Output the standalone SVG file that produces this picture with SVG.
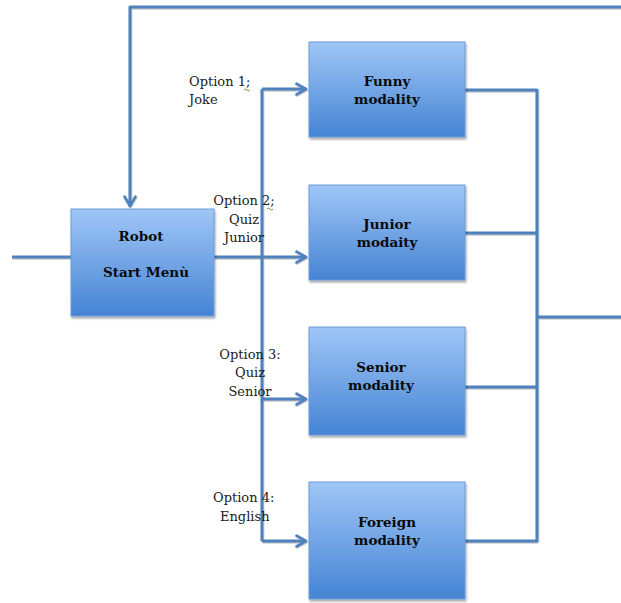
<svg xmlns="http://www.w3.org/2000/svg" width="621" height="603" viewBox="0 0 621 603">
  <style>
    .box { fill: url(#boxGrad); stroke: #6d9bd8; stroke-width: 1; filter: url(#shadow); }
    .wire { fill: none; stroke: #4f81bd; stroke-width: 3; stroke-linejoin: round; }
    .title { font-family: "DejaVu Serif", "Liberation Serif", serif; font-size: 13.5px; font-weight: bold; fill: #0a0a0a; text-anchor: middle; }
    .opt { font-family: "DejaVu Serif", "Liberation Serif", serif; font-size: 13px; fill: #1a1a1a; }
    .mid { text-anchor: middle; }
  </style>
  <defs>
    <linearGradient id="boxGrad" x1="0" y1="0" x2="0" y2="1">
      <stop offset="0" stop-color="#a0c6f7"/>
      <stop offset="1" stop-color="#4584d3"/>
    </linearGradient>
    <filter id="shadow" x="-10%" y="-10%" width="125%" height="125%">
      <feDropShadow dx="1" dy="2" stdDeviation="1.2" flood-color="#000" flood-opacity="0.35"/>
    </filter>
    <filter id="lineShadow" filterUnits="userSpaceOnUse" x="0" y="0" width="621" height="603">
      <feDropShadow dx="0.5" dy="1" stdDeviation="0.6" flood-color="#000" flood-opacity="0.3"/>
    </filter>
    <marker id="arrow" viewBox="0 0 10 10" refX="8" refY="5" markerWidth="4.5" markerHeight="4.5" orient="auto" markerUnits="strokeWidth">
      <path d="M1,1 L8,5 L1,9" fill="none" stroke="#4f81bd" stroke-width="2" stroke-linecap="round" stroke-linejoin="round"/>
    </marker>
  </defs>

  <rect width="621" height="603" fill="#ffffff"/>

  <!-- connectors -->
  <g id="connectors" filter="url(#lineShadow)">
    <!-- feedback loop from the right edge back to the start menu -->
    <path class="wire" d="M621,7 L130,7 L130,206" marker-end="url(#arrow)"/>
    <!-- incoming line -->
    <path class="wire" d="M12,257 L71,257"/>
    <!-- start menu to junior -->
    <path class="wire" d="M214,257 L306,257" marker-end="url(#arrow)"/>
    <!-- distribution bus -->
    <path class="wire" d="M262,89 L262,541"/>
    <path class="wire" d="M262,89 L306,89" marker-end="url(#arrow)"/>
    <path class="wire" d="M262,399 L306,399" marker-end="url(#arrow)"/>
    <path class="wire" d="M262,541 L306,541" marker-end="url(#arrow)"/>
    <!-- collection bus -->
    <path class="wire" d="M465,90 L537,90 L537,541 L465,541"/>
    <path class="wire" d="M465,233 L537,233"/>
    <path class="wire" d="M465,387 L537,387"/>
    <path class="wire" d="M537,317 L621,317"/>
  </g>

  <!-- option labels -->
  <g id="labels">
    <text class="opt" x="189" y="86">Option  1;</text>
    <text class="opt" x="189" y="104">Joke</text>
    <path d="M244,90 q1.5,-2 3,0 t3,0" fill="none" stroke="#5aa02c" stroke-width="1"/>
    <text class="opt mid" x="244" y="205">Option 2;</text>
    <text class="opt mid" x="244" y="224">Quiz</text>
    <text class="opt mid" x="244" y="242">Junior</text>
    <path d="M267,209 q1.5,-2 3,0 t3,0" fill="none" stroke="#5aa02c" stroke-width="1"/>
    <text class="opt mid" x="250" y="359">Option 3:</text>
    <text class="opt mid" x="250" y="377">Quiz</text>
    <text class="opt mid" x="250" y="396">Senior</text>
    <text class="opt" x="213" y="502">Option 4:</text>
    <text class="opt" x="220" y="521">English</text>
  </g>

  <g id="robot">
    <rect class="box" x="71" y="209" width="143" height="107"/>
    <text class="title" x="141" y="241">Robot</text>
    <text class="title" x="146" y="277">Start Menù</text>
  </g>

  <g id="funny">
    <rect class="box" x="309" y="42" width="156" height="95"/>
    <text class="title" x="387" y="86">Funny</text>
    <text class="title" x="387" y="104">modality</text>
  </g>

  <g id="junior">
    <rect class="box" x="309" y="185" width="156" height="95"/>
    <text class="title" x="387" y="229">Junior</text>
    <text class="title" x="387" y="247">modaity</text>
  </g>

  <g id="senior">
    <rect class="box" x="309" y="327" width="156" height="108"/>
    <text class="title" x="381" y="372">Senior</text>
    <text class="title" x="381" y="390">modality</text>
  </g>

  <g id="foreign">
    <rect class="box" x="309" y="482" width="156" height="117"/>
    <text class="title" x="387" y="527">Foreign</text>
    <text class="title" x="387" y="545">modality</text>
  </g>
</svg>
